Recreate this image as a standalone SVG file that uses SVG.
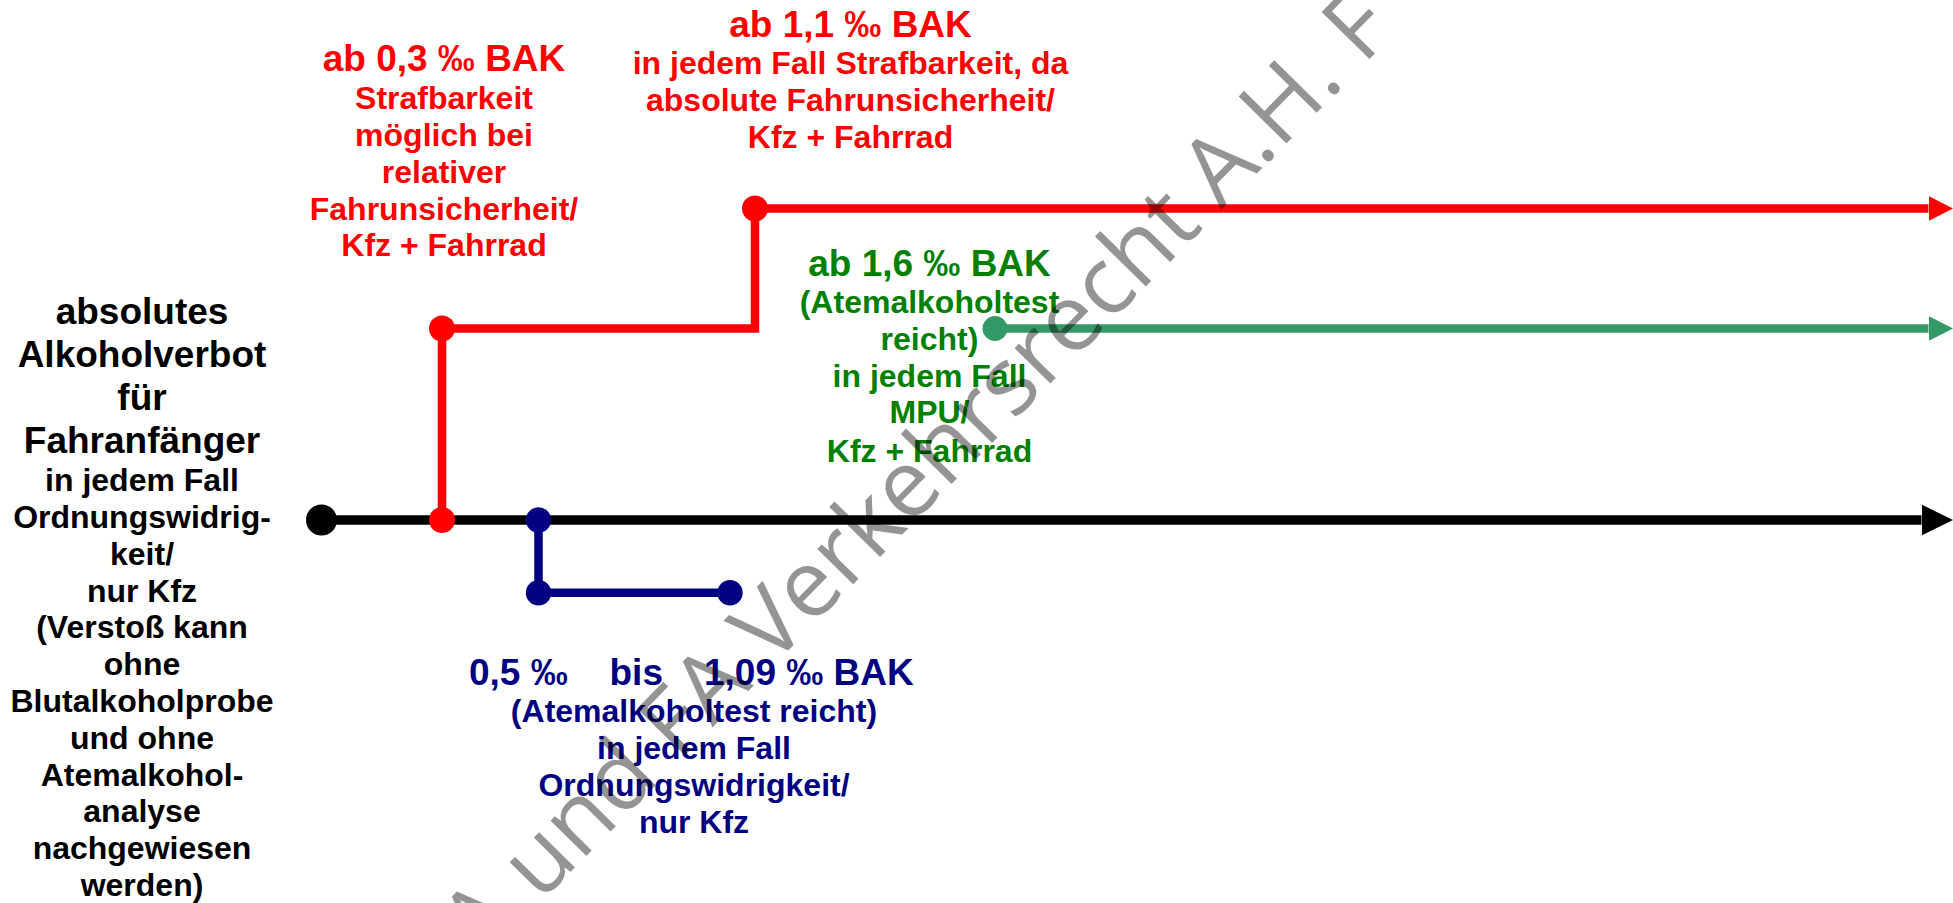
<svg xmlns="http://www.w3.org/2000/svg" width="1953" height="903" viewBox="0 0 1953 903">
<style>
text{font-family:"Liberation Sans",Arial,sans-serif;font-weight:bold;text-anchor:middle}
.big{font-size:37px}
.sm{font-size:32px}
.k{fill:#000}
.r{fill:#FF0000}
.g{fill:#008000}
.b{fill:#000080}
.ln{fill:none;stroke-linejoin:miter;stroke-linecap:butt}
.wm{font-family:"Open Sans","DejaVu Sans",sans-serif;font-weight:normal;font-size:94px;fill:#000;fill-opacity:0.42}
</style>
<defs>
<marker id="ak" markerUnits="userSpaceOnUse" markerWidth="32" markerHeight="32" refX="0" refY="15.5" orient="auto"><path d="M0,0 L31.5,15.5 L0,31 z" fill="#000"/></marker>
<marker id="ar" markerUnits="userSpaceOnUse" markerWidth="26" markerHeight="26" refX="0" refY="12.5" orient="auto"><path d="M0,0 L24.5,12.5 L0,25 z" fill="#FF0000"/></marker>
<marker id="ag" markerUnits="userSpaceOnUse" markerWidth="26" markerHeight="26" refX="0" refY="12.5" orient="auto"><path d="M0,0 L24.5,12.5 L0,25 z" fill="#339966"/></marker>
</defs>
<rect width="1953" height="903" fill="#fff"/>
<g id="connectors">
<path class="ln" d="M321.5,520 H1921.5" stroke="#000" stroke-width="9.6" marker-end="url(#ak)"/>
<path class="ln" d="M442,520 V328.5 H755 V208.5 H1928.5" stroke="#FF0000" stroke-width="8.5" marker-end="url(#ar)"/>
<path class="ln" d="M995,328.5 H1928.5" stroke="#339966" stroke-width="8.5" marker-end="url(#ag)"/>
<path class="ln" d="M538.5,520 V592.7 H730" stroke="#000080" stroke-width="8.5"/>
</g>
<g id="node-start">
<circle cx="321.5" cy="520" r="15.5" fill="#000"/>
<text class="k"><tspan class="big" x="142" y="324">absolutes</tspan><tspan class="big" x="142" y="367">Alkoholverbot</tspan><tspan class="big" x="142" y="410">für</tspan><tspan class="big" x="142" y="453">Fahranfänger</tspan><tspan class="sm" x="142" y="491">in jedem Fall</tspan><tspan class="sm" x="142" y="528">Ordnungswidrig-</tspan><tspan class="sm" x="142" y="565">keit/</tspan><tspan class="sm" x="142" y="602">nur Kfz</tspan><tspan class="sm" x="142" y="638">(Verstoß kann</tspan><tspan class="sm" x="142" y="675">ohne</tspan><tspan class="sm" x="142" y="712">Blutalkoholprobe</tspan><tspan class="sm" x="142" y="749">und ohne</tspan><tspan class="sm" x="142" y="786">Atemalkohol-</tspan><tspan class="sm" x="142" y="822">analyse</tspan><tspan class="sm" x="142" y="859">nachgewiesen</tspan><tspan class="sm" x="142" y="896">werden)</tspan></text>
</g>
<g id="node-red-03">
<circle cx="442" cy="520" r="13" fill="#FF0000"/>
<circle cx="442" cy="328.5" r="13" fill="#FF0000"/>
<text class="r"><tspan class="big" x="444" y="71">ab 0,3 ‰ BAK</tspan><tspan class="sm" x="444" y="109">Strafbarkeit</tspan><tspan class="sm" x="444" y="146">möglich bei</tspan><tspan class="sm" x="444" y="183">relativer</tspan><tspan class="sm" x="444" y="220">Fahrunsicherheit/</tspan><tspan class="sm" x="444" y="256">Kfz + Fahrrad</tspan></text>
</g>
<g id="node-red-11">
<circle cx="755" cy="208.5" r="13" fill="#FF0000"/>
<text class="r"><tspan class="big" x="850.5" y="37">ab 1,1 ‰ BAK</tspan><tspan class="sm" x="850.5" y="74">in jedem Fall Strafbarkeit, da</tspan><tspan class="sm" x="850.5" y="110.5">absolute Fahrunsicherheit/</tspan><tspan class="sm" x="850.5" y="147.5">Kfz + Fahrrad</tspan></text>
</g>
<g id="node-green-16">
<circle cx="995" cy="328.5" r="12.5" fill="#339966"/>
<text class="g"><tspan class="big" x="929.5" y="276">ab 1,6 ‰ BAK</tspan><tspan class="sm" x="929.5" y="313.3">(Atemalkoholtest</tspan><tspan class="sm" x="929.5" y="350">reicht)</tspan><tspan class="sm" x="929.5" y="386.7">in jedem Fall</tspan><tspan class="sm" x="929.5" y="423.3">MPU/</tspan><tspan class="sm" x="929.5" y="461.7">Kfz + Fahrrad</tspan></text>
</g>
<g id="node-blue-05">
<circle cx="538.5" cy="520" r="12.7" fill="#000080"/>
<circle cx="538.5" cy="592.7" r="12.7" fill="#000080"/>
<circle cx="730" cy="592.7" r="12.7" fill="#000080"/>
<text class="b big" style="text-anchor:start"><tspan x="469" y="685">0,5 ‰</tspan><tspan x="609.5" y="685">bis</tspan><tspan x="704" y="685">1,09 ‰ BAK</tspan></text>
<text class="b"><tspan class="sm" x="694" y="721.7">(Atemalkoholtest reicht)</tspan><tspan class="sm" x="694" y="759.3">in jedem Fall</tspan><tspan class="sm" x="694" y="796">Ordnungswidrigkeit/</tspan><tspan class="sm" x="694" y="833.3">nur Kfz</tspan></text>
</g>
<g id="watermark" transform="translate(1221,210) rotate(-45.5)">
<text class="wm"><tspan x="-24" style="text-anchor:end">A und FA Verkehrsrecht</tspan><tspan x="0" style="text-anchor:start">A.H. F</tspan></text>
</g>
</svg>
